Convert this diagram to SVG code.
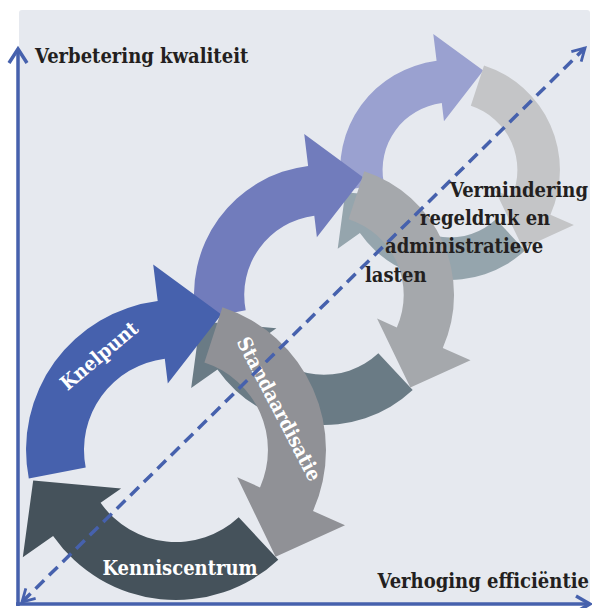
<svg xmlns="http://www.w3.org/2000/svg" xmlns:xlink="http://www.w3.org/1999/xlink" width="592" height="608" viewBox="0 0 592 608">
<style>
.lbl{font-family:"DejaVu Serif","Liberation Serif",serif;font-stretch:condensed;font-weight:bold;fill:#231F20;font-size:20px}
.in{font-family:"DejaVu Serif","Liberation Serif",serif;font-stretch:condensed;font-weight:bold;fill:#FFFFFF;font-size:20px}
.axis{fill:none;stroke:#4661AD;stroke-width:3.5;stroke-linecap:butt;stroke-linejoin:miter}
.dash{fill:none;stroke:#4661AD;stroke-width:3.5;stroke-dasharray:12 7}
</style>
<defs>
<path id="arcA" d="M -147.2 28.6 A 150 150 0 0 1 -18.3 -148.9 L -22.8 -185.6 L 45.4 -135.6 L -8.2 -66.5 L -11.2 -91.3 A 92 92 0 0 0 -90.3 17.6 Z"/>
<path id="arcB" d="M 46.4 -142.7 A 150 150 0 0 1 137.0 61.0 L 169.0 75.2 L 99.6 106.8 L 61.2 27.2 L 84.0 37.4 A 92 92 0 0 0 28.4 -87.5 Z"/>
<path id="arcC" d="M 102.3 109.7 A 150 150 0 0 1 -122.9 86.0 L -153.2 107.3 L -142.8 30.4 L -54.9 38.4 L -75.4 52.8 A 92 92 0 0 0 62.7 67.3 Z"/>
<marker id="chev" viewBox="0 0 10 10" refX="8" refY="5" markerWidth="5" markerHeight="5" orient="auto-start-reverse" markerUnits="strokeWidth">
<path d="M 1 1 L 8 5 L 1 9" fill="none" stroke="#4661AD" stroke-width="1.6"/>
</marker>
</defs>
<rect id="panel" x="19" y="10" width="571" height="594" rx="3" fill="#E6E9EF"/>
<g id="cycle3" transform="translate(450,170) scale(0.733)">
<use id="c3-top" xlink:href="#arcA" href="#arcA" fill="#9AA1D0"/>
<use id="c3-bottom" xlink:href="#arcC" href="#arcC" fill="#95A5AD"/>
<use id="c3-right" xlink:href="#arcB" href="#arcB" fill="#C4C5C7"/>
</g>
<g id="cycle2" transform="translate(324,295) scale(0.867)">
<use id="c2-top" xlink:href="#arcA" href="#arcA" fill="#717CBC"/>
<use id="c2-bottom" xlink:href="#arcC" href="#arcC" fill="#6A7B85"/>
<use id="c2-right" xlink:href="#arcB" href="#arcB" fill="#A5A8AC"/>
</g>
<g id="knelpunt">
<use transform="translate(176,450)" xlink:href="#arcA" href="#arcA" fill="#4661AD"/>
<text class="in" transform="translate(103.6,361) rotate(-40)" text-anchor="middle">Knelpunt</text>
</g>
<g id="kenniscentrum">
<use transform="translate(176,450)" xlink:href="#arcC" href="#arcC" fill="#45525B"/>
<text class="in" x="180" y="575" text-anchor="middle">Kenniscentrum</text>
</g>
<g id="standaardisatie">
<use transform="translate(176,450)" xlink:href="#arcB" href="#arcB" fill="#909196"/>
<text class="in" transform="translate(273,412) rotate(62.5)" text-anchor="middle">Standaardisatie</text>
</g>
<g id="connectors">
<path class="dash" d="M 22 602 L 585 48" marker-start="url(#chev)" marker-end="url(#chev)"/>
<path class="axis" d="M 18 606 L 18 50"/>
<path class="axis" d="M 9 63 L 18 49 L 27 63"/>
<path class="axis" d="M 16 604 L 588 604"/>
<path class="axis" d="M 576 596 L 590 604 L 576 612"/>
</g>
<g id="labels">
<text class="lbl" x="35" y="63">Verbetering kwaliteit</text>
<text class="lbl" x="589" y="588" text-anchor="end">Verhoging efficiëntie</text>
<text class="lbl" x="450" y="197">Vermindering</text>
<text class="lbl" x="420" y="225">regeldruk en</text>
<text class="lbl" x="385" y="253">administratieve</text>
<text class="lbl" x="365" y="282">lasten</text>
</g>
</svg>
